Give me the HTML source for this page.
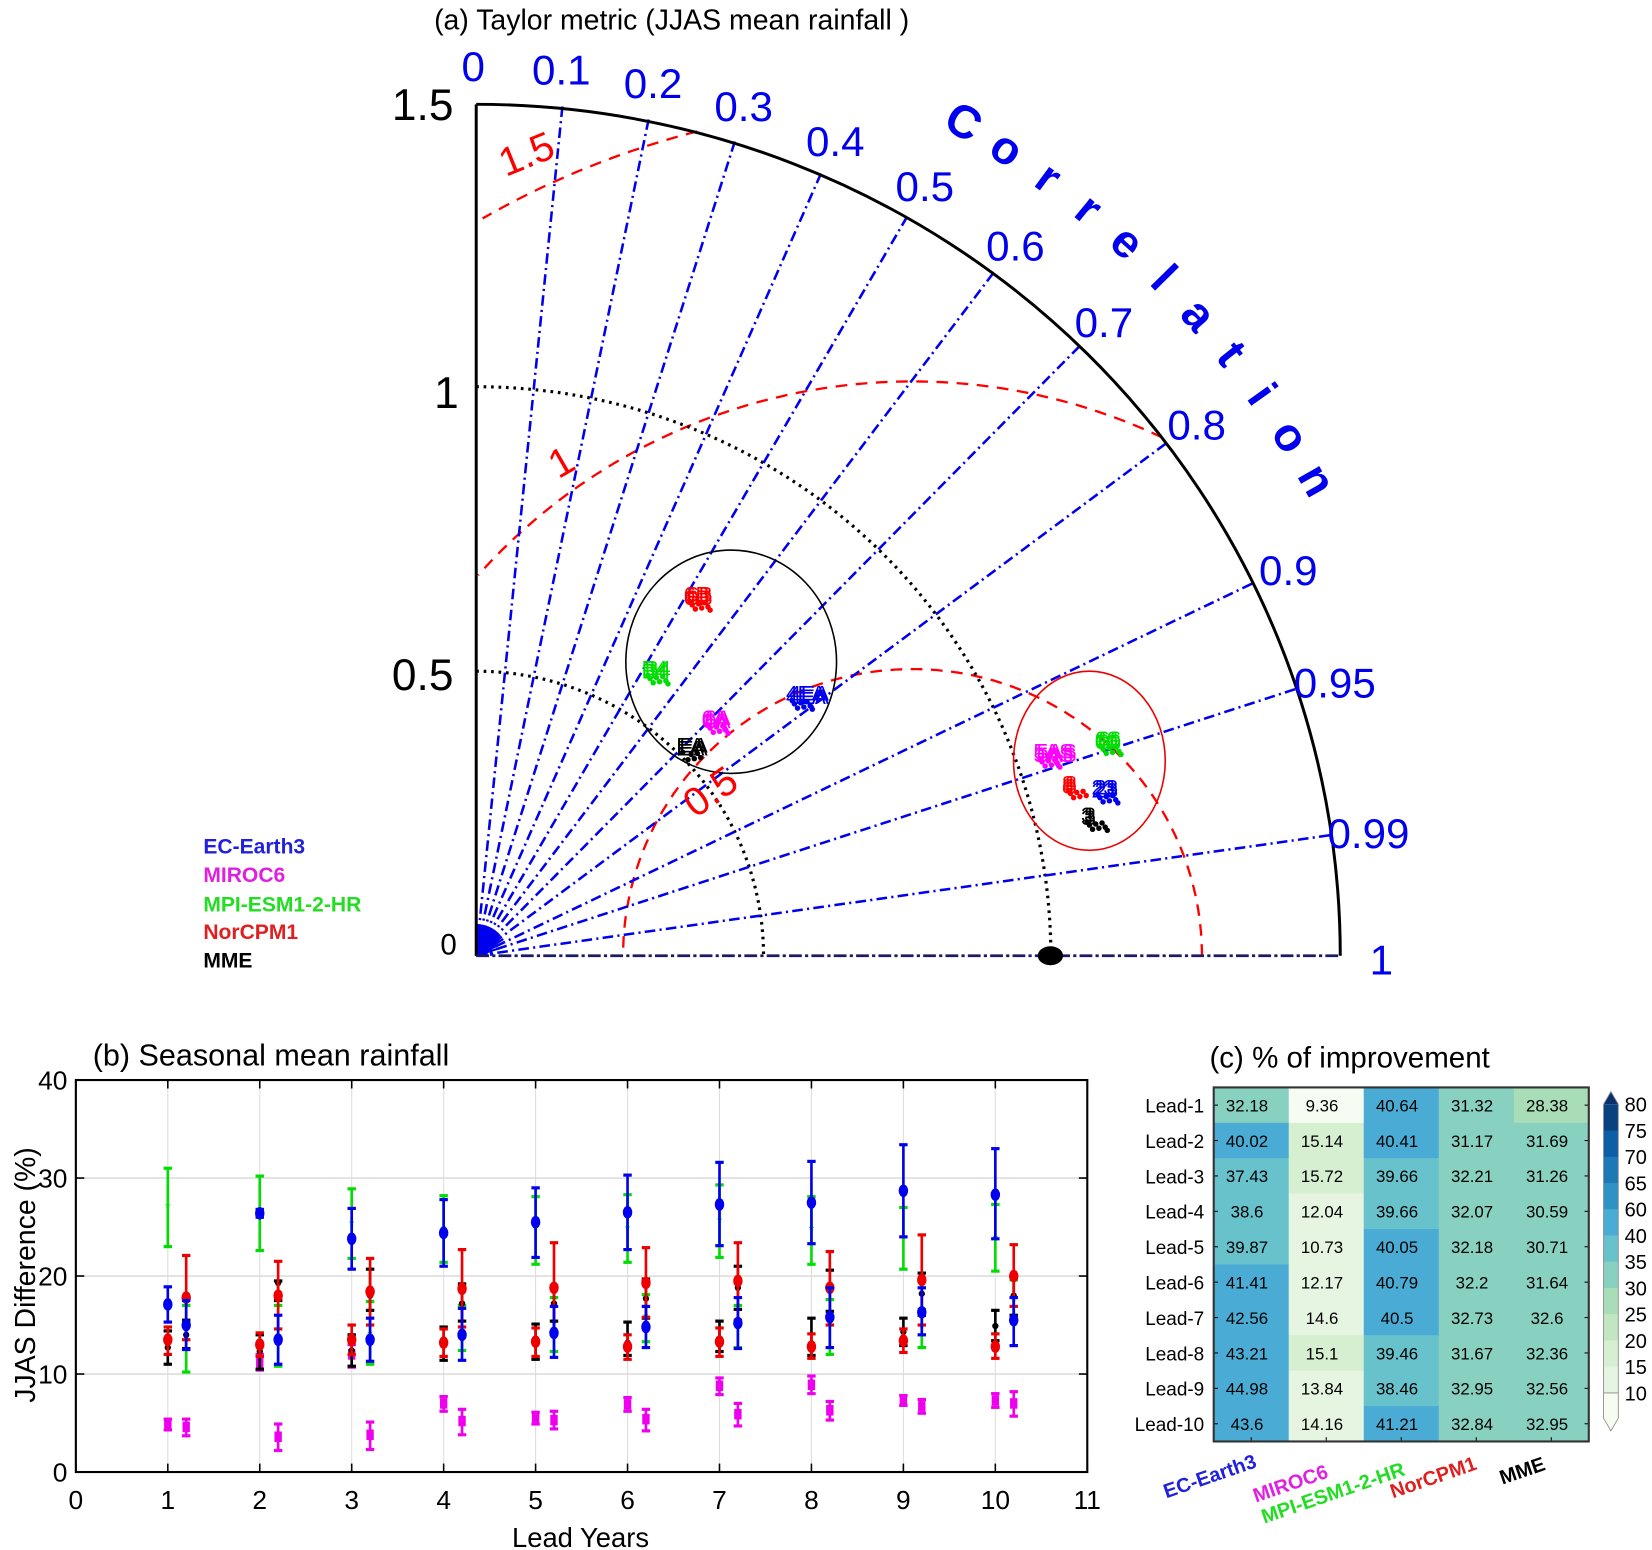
<!DOCTYPE html>
<html><head><meta charset="utf-8"><style>
html,body{margin:0;padding:0;background:#fff;}
svg{display:block;font-family:"Liberation Sans",Arial,sans-serif;}
</style></head><body>
<svg id="s" width="1652" height="1550" viewBox="0 0 1568 1471" preserveAspectRatio="none" xmlns="http://www.w3.org/2000/svg">
<rect width="1568" height="1471" fill="#fff"/>
<g id="ta"></g><g id="pb"></g><g id="pc"></g>
</svg>
<script>
const NS="http://www.w3.org/2000/svg";
function el(p,t,a,txt){const e=document.createElementNS(NS,t);for(const k in a)e.setAttribute(k,a[k]);if(txt!==undefined)e.textContent=txt;p.appendChild(e);return e;}
// ---------- Taylor ----------
const ta=document.getElementById('ta');
const OX=452,OY=907,U=540,R=812;
el(ta,'text',{x:412,y:28,'font-size':27,fill:'#000'},'(a) Taylor metric (JJAS mean rainfall )');
const g=el(ta,'g',{transform:`translate(${OX},${OY}) scale(1.01,1) translate(${-OX},${-OY})`});
const CX=862;
function rmsArc(r){let pts=[];for(let t=0;t<=180;t+=0.5){const a=t*Math.PI/180;const x=CX+r*Math.cos(a),y=OY-r*Math.sin(a);const d=Math.hypot(x-OX,OY-y);if(x>=OX&&d<=R)pts.push(x.toFixed(1)+','+y.toFixed(1));}
 el(g,'polyline',{points:pts.join(' '),fill:'none',stroke:'#f00','stroke-width':2.2,'stroke-dasharray':'11,8'});}
rmsArc(272);rmsArc(545);rmsArc(808);
[0.5,1.0].forEach(v=>{const r=v*U;el(g,'path',{d:`M${OX},${OY-r} A${r},${r} 0 0 1 ${OX+r},${OY}`,fill:'none',stroke:'#000','stroke-width':3,'stroke-dasharray':'2.5,4.5'});});
const cors=[0.1,0.2,0.3,0.4,0.5,0.6,0.7,0.8,0.9,0.95,0.99];
cors.forEach(c=>{const a=Math.acos(c);el(g,'line',{x1:OX,y1:OY,x2:OX+R*Math.cos(a),y2:OY-R*Math.sin(a),stroke:'#0000ee','stroke-width':2.4,'stroke-dasharray':'10,4,2,4'});});
for(let c=0.05;c<1;c+=0.05){const a=Math.acos(c);el(g,'line',{x1:OX,y1:OY,x2:OX+30*Math.cos(a),y2:OY-30*Math.sin(a),stroke:'#0000ee','stroke-width':2});}
[6,10,14].forEach(r=>el(g,'path',{d:`M${OX},${OY-r} A${r},${r} 0 0 1 ${OX+r},${OY}`,fill:'none',stroke:'#0000ee','stroke-width':2}));
el(g,'path',{d:`M${OX},${OY-R+4} A${R},${R-4} 0 0 1 ${OX+R},${OY}`,fill:'none',stroke:'#000','stroke-width':2.8});
el(g,'line',{x1:OX,y1:OY-R+4,x2:OX,y2:OY,stroke:'#000','stroke-width':2.8});
el(g,'line',{x1:OX,y1:OY,x2:OX+R,y2:OY,stroke:'#1a1a66','stroke-width':2.6,'stroke-dasharray':'12,3,3,3'});
el(ta,'ellipse',{cx:997,cy:907,rx:12,ry:9,fill:'#000'});
el(ta,'ellipse',{cx:694,cy:628,rx:100,ry:106,fill:'none',stroke:'#000','stroke-width':1.5});
el(ta,'ellipse',{cx:1034,cy:722,rx:72,ry:85,fill:'none',stroke:'#e00','stroke-width':1.5});
[['1.5',372,114,42],['1',412,387,42],['0.5',372,655,42],['0',418,906,28]].forEach(l=>el(ta,'text',{x:l[1],y:l[2],'font-size':l[3]},l[0]));
el(ta,'text',{x:480,y:168,'font-size':38,fill:'#f00',transform:'rotate(-22 480 168)'},'1.5');
el(ta,'text',{x:530,y:455,'font-size':38,fill:'#f00',transform:'rotate(-30 530 455)'},'1');
el(ta,'text',{x:660,y:777,'font-size':38,fill:'#f00',transform:'rotate(-35 660 777)'},'0.5');
[['0',438,77],['0.1',505,80],['0.2',592,93],['0.3',678,115],['0.4',765,148],['0.5',850,191],['0.6',936,247],['0.7',1020,320],['0.8',1108,417],['0.9',1195,555],['0.95',1228,662],['0.99',1260,805],['1',1300,925]].forEach(l=>el(ta,'text',{x:l[1],y:l[2],'font-size':40,fill:'#0000ee'},l[0]));
const word='Correlation';const a0=59.7,a1=29.5;
for(let i=0;i<word.length;i++){const ang=a0+(a1-a0)*i/(word.length-1);const rr=ang*Math.PI/180;const x=OX+917*Math.cos(rr),y=OY-917*Math.sin(rr);
 el(ta,'text',{x:0,y:0,'font-size':44,'font-weight':'bold',fill:'#0000ee','text-anchor':'middle',transform:`translate(${x.toFixed(1)},${y.toFixed(1)}) rotate(${(90-ang).toFixed(1)}) translate(0,15)`},word[i]);}
function clus(x,y,col,txt,n){for(let j=0;j<4;j++)el(ta,'text',{x:x-14+(j%2)*3,y:y+8+(j>1?3:0),'font-size':20,fill:col},txt);for(let i=0;i<n;i++){el(ta,'circle',{cx:x-8+((i*37)%20),cy:y+8+((i*23)%9),r:2.6,fill:col});}}
clus(663,563,'#f00','6B',8);clus(623,633,'#0d0','B4',8);clus(760,657,'#0000ee','4EA',8);
clus(680,680,'#f0f','6A',9);clus(656,706,'#000','EA',6);
clus(995,712,'#f0f','5AS',9);clus(1053,700,'#0d0','66',8);clus(1022,742,'#f00','8',7);clus(1050,746,'#0000ee','23',8);clus(1040,772,'#000','3',8);
[['EC-Earth3','#2020dd',810],['MIROC6','#e020e0',837],['MPI-ESM1-2-HR','#22dd22',865],['NorCPM1','#e02020',891],['MME','#000',918]].forEach(l=>el(ta,'text',{x:193,y:l[2],'font-size':20,'font-weight':'bold',fill:l[1]},l[0]));
// ---------- Panel b ----------
const pb=document.getElementById('pb');
const L=72,Rr=1032,T=1025,B=1397;
const X=v=>L+(Rr-L)*v/11, Y=v=>B-(B-T)*v/40;
el(pb,'text',{x:88,y:1011,'font-size':29},'(b) Seasonal mean rainfall');
for(let i=1;i<=10;i++)el(pb,'line',{x1:X(i),y1:T,x2:X(i),y2:B,stroke:'#ddd','stroke-width':1});
[10,20,30].forEach(v=>el(pb,'line',{x1:L,y1:Y(v),x2:Rr,y2:Y(v),stroke:'#ddd','stroke-width':1.5}));
el(pb,'rect',{x:L,y:T,width:Rr-L,height:B-T,fill:'none',stroke:'#000','stroke-width':2});
for(let i=0;i<=11;i++){el(pb,'text',{x:X(i),y:1432,'font-size':25,'text-anchor':'middle'},String(i));el(pb,'line',{x1:X(i),y1:B,x2:X(i),y2:B-8,stroke:'#000','stroke-width':1.5});el(pb,'line',{x1:X(i),y1:T,x2:X(i),y2:T+8,stroke:'#000','stroke-width':1.5});}
for(let v=0;v<=40;v+=10){el(pb,'text',{x:64,y:Y(v)+9,'font-size':25,'text-anchor':'end'},String(v));el(pb,'line',{x1:L,y1:Y(v),x2:L+8,y2:Y(v),stroke:'#000','stroke-width':1.5});el(pb,'line',{x1:Rr,y1:Y(v),x2:Rr-8,y2:Y(v),stroke:'#000','stroke-width':1.5});}
el(pb,'text',{x:551,y:1468,'font-size':26,'text-anchor':'middle'},'Lead Years');
el(pb,'text',{x:0,y:0,'font-size':27,'text-anchor':'middle',transform:'translate(24,1210) rotate(-90) translate(0,9)'},'JJAS Difference (%)');
const C={G:'#00dd00',B:'#0000ee',K:'#000',R:'#ee0000',M:'#ee00ee'};
const D0=[
[[27,23,31],[17.1,15.3,18.9],[12.7,11,14.4],[13.5,12,14.8],[4.9,4.3,5.4]],
[[26.4,22.6,30.2],[26.4,26,26.8],[12.3,10.5,14],[13,11.8,14.2],[11.2,10.4,12]],
[[25.3,21.8,28.9],[23.8,20.7,26.9],[12.4,10.8,14],[13.5,12,15],[12,10.7,13]],
[[24.8,21.4,28.2],[24.4,21,27.8],[13.1,11.4,14.8],[13.2,11.8,14.6],[7,6.2,7.7]],
[[24.7,21.2,28.1],[25.5,21.9,29],[13.2,11.5,15.1],[13.3,11.8,14.7],[5.5,4.9,6.1]],
[[24.8,21.4,28.3],[26.5,22.7,30.3],[13.2,11.9,15.3],[12.8,11.5,14],[6.9,6.2,7.6]],
[[25.6,21.9,29.3],[27.3,23.1,31.6],[13.2,12.3,15.4],[13.3,11.8,14.7],[8.8,7.9,9.6]],
[[24.7,21.2,28.1],[27.5,23.3,31.7],[13,11.9,15.7],[12.8,11.6,14.1],[8.9,8,9.8]],
[[23.8,20.7,27],[28.7,24,33.4],[14.3,12.9,15.7],[13.4,12.2,14.6],[7.4,6.8,7.8]],
[[23.8,20.5,27.3],[28.3,23.8,33],[14.9,13.4,16.5],[12.8,11.6,14.1],[7.3,6.6,8]]];
const D1=[
[[13.5,10.2,17],[15,12.5,17.5],[14,12.6,15.5],[17.8,13.5,22.1],[4.6,3.7,5.4]],
[[13.8,10.8,17],[13.5,11,16],[19.3,17.5,19.5],[18,14.6,21.5],[3.6,2.2,4.9]],
[[14,11,17.4],[13.5,11.3,15.7],[18,16.5,20.7],[18.4,15,21.8],[3.8,2.3,5.1]],
[[14.5,12.4,17],[14,11.4,16.7],[17.2,15.4,19.2],[18.7,14.8,22.7],[5.2,3.8,6.4]],
[[15,12.3,17.8],[14.2,11.7,16.9],[17.2,15.4,19],[18.8,14.2,23.4],[5.3,4.4,6.2]],
[[15.8,13.3,18.1],[14.8,12.7,16.9],[17.7,15.7,19.7],[19.3,15.8,22.9],[5.4,4.2,6.4]],
[[15,12.7,17],[15.2,12.6,17.8],[18.8,16.6,21],[19.5,15.5,23.4],[5.9,4.7,7]],
[[15,12,17.6],[15.8,12.7,18.8],[18.5,16.4,20.6],[18.8,15,22.5],[6.3,5.3,7.2]],
[[14.7,12.7,16.6],[16.3,14,18.8],[18.2,16,20.3],[19.6,15,24.2],[6.7,6,7.4]],
[[17.5,15.5,19.6],[15.5,12.9,17.8],[18,16,20.1],[20,16.9,23.2],[7,5.7,8.2]]];
const keys=['G','B','K','R','M'];
function eb(x,d,col,mk){const [v,lo,hi]=d;el(pb,'line',{x1:x,y1:Y(lo),x2:x,y2:Y(hi),stroke:col,'stroke-width':2.5});
 [lo,hi].forEach(q=>el(pb,'line',{x1:x-4,y1:Y(q),x2:x+4,y2:Y(q),stroke:col,'stroke-width':3}));
 if(mk==='M')el(pb,'rect',{x:x-3.5,y:Y(v)-5,width:7,height:10,fill:col});
 else if(mk==='B'||mk==='R')el(pb,'ellipse',{cx:x,cy:Y(v),rx:4.5,ry:6,fill:col});
 else if(mk==='G')el(pb,'text',{x:x,y:Y(v)+5,'font-size':13,'text-anchor':'middle',fill:col},'*');
 else el(pb,'circle',{cx:x,cy:Y(v),r:3,fill:col});}
const order=[0,4,2,3,1];
for(let i=0;i<10;i++){order.forEach(k=>{eb(X(i+1),D0[i][k],C[keys[k]],keys[k]);eb(X(i+1.2),D1[i][k],C[keys[k]],keys[k]);});}
// ---------- Panel c ----------
const pc=document.getElementById('pc');
el(pc,'text',{x:1148,y:1013,'font-size':28},'(c) % of improvement');
const hL=1152,hR=1508,hT=1032,hB=1368,cw=(hR-hL)/5,rh=(hB-hT)/10;
const vals=[[32.18,9.36,40.64,31.32,28.38],[40.02,15.14,40.41,31.17,31.69],[37.43,15.72,39.66,32.21,31.26],[38.6,12.04,39.66,32.07,30.59],[39.87,10.73,40.05,32.18,30.71],[41.41,12.17,40.79,32.2,31.64],[42.56,14.6,40.5,32.73,32.6],[43.21,15.1,39.46,31.67,32.36],[44.98,13.84,38.46,32.95,32.56],[43.6,14.16,41.21,32.84,32.95]];
function col(v){if(v<10)return'#f7fcf2';if(v<15)return'#e6f5e1';if(v<20)return'#d6efd0';if(v<25)return'#c2e6c2';if(v<30)return'#a9ddb7';if(v<35)return'#88d0bf';if(v<40)return'#68c2cc';if(v<60)return'#4aacd5';if(v<65)return'#2f92c5';if(v<70)return'#1d78b6';if(v<75)return'#0c5ea6';return'#08437f';}
for(let r=0;r<10;r++){for(let c=0;c<5;c++){const x=hL+c*cw,y=hT+r*rh;el(pc,'rect',{x:x,y:y,width:cw+0.5,height:rh+0.5,fill:col(vals[r][c])});
 el(pc,'text',{x:x+cw/2-4,y:y+rh/2+6,'font-size':16,'text-anchor':'middle'},String(vals[r][c]));}
 el(pc,'text',{x:1143,y:hT+r*rh+rh/2+7,'font-size':18,'text-anchor':'end'},'Lead-'+(r+1));
 el(pc,'line',{x1:hL,y1:hT+r*rh+rh/2,x2:hL+4,y2:hT+r*rh+rh/2,stroke:'#000'});el(pc,'line',{x1:hR,y1:hT+r*rh+rh/2,x2:hR-4,y2:hT+r*rh+rh/2,stroke:'#000'});}
for(let c=0;c<5;c++){el(pc,'line',{x1:hL+c*cw+cw/2,y1:hB,x2:hL+c*cw+cw/2,y2:hB-4,stroke:'#000'});}
el(pc,'rect',{x:hL,y:hT,width:hR-hL,height:hB-hT,fill:'none',stroke:'#333','stroke-width':2});
const cbx=1522,cbw=14,bt=1048,bs=24.9;
const bands=['#08437f','#0c5ea6','#1d78b6','#2f92c5','#4aacd5','#68c2cc','#88d0bf','#a9ddb7','#c2e6c2','#d6efd0','#e6f5e1'];
el(pc,'path',{d:`M${cbx},${bt} L${cbx+cbw/2},${bt-12} L${cbx+cbw},${bt} Z`,fill:'#08306b'});
bands.forEach((b,i)=>el(pc,'rect',{x:cbx,y:bt+i*bs,width:cbw,height:bs+0.5,fill:b}));
const bb=bt+11*bs;
el(pc,'path',{d:`M${cbx},${bb} L${cbx},${bb+24} L${cbx+cbw/2},${bb+36} L${cbx+cbw},${bb+24} L${cbx+cbw},${bb} Z`,fill:'#f7fcf2',stroke:'#888','stroke-width':0.8});
el(pc,'path',{d:`M${cbx},${bt} L${cbx+cbw/2},${bt-12} L${cbx+cbw},${bt} L${cbx+cbw},${bb} M${cbx},${bb} L${cbx},${bt}`,fill:'none',stroke:'#888','stroke-width':0.8});
['80','75','70','65','60','40','35','30','25','20','15','10'].forEach((t,i)=>el(pc,'text',{x:1542,y:bt+i*bs+7,'font-size':19},t));
[['EC-Earth3','#2020dd',1107,1422],['MIROC6','#e020e0',1192,1426],['MPI-ESM1-2-HR','#22dd22',1200,1446],['NorCPM1','#e02020',1322,1422],['MME','#000',1426,1409]].forEach(l=>el(pc,'text',{x:0,y:0,'font-size':19,'font-weight':'bold',fill:l[1],transform:`translate(${l[2]},${l[3]}) rotate(-19)`},l[0]));
</script>
</body></html>
